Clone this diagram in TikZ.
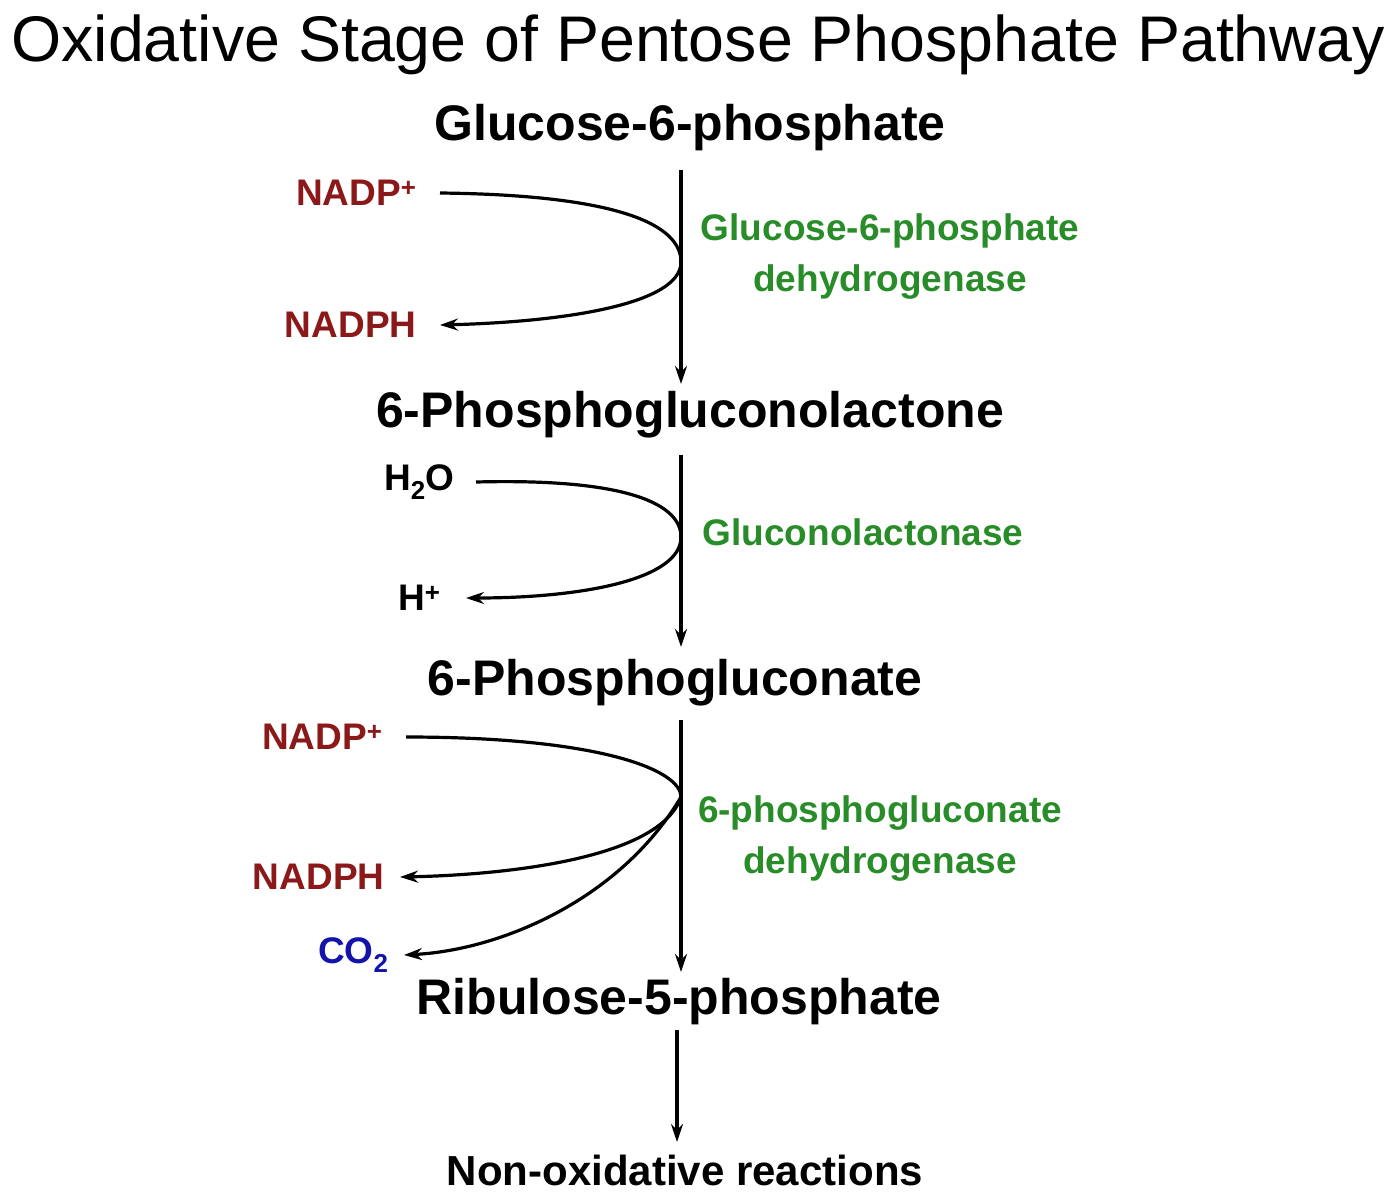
\documentclass[tikz,border=0pt]{standalone}
\usepackage{fontspec}
\setmainfont{Liberation Sans}
\usetikzlibrary{arrows.meta}
\definecolor{dred}{RGB}{140,25,25}
\definecolor{egreen}{RGB}{40,140,40}
\definecolor{cblue}{RGB}{20,20,170}
\begin{document}
\begin{tikzpicture}[x=1pt,y=-1pt,
  met/.style={font=\fontsize{50}{54}\selectfont\bfseries},
  enz/.style={text=egreen,font=\fontsize{37}{51}\selectfont\bfseries,align=center},
  cof/.style={font=\fontsize{37}{40}\selectfont\bfseries},
  arr/.style={-{Stealth[length=18pt,width=12pt]},line width=3.2pt},
  crv/.style={line width=3.2pt}]
\useasboundingbox (0,0) rectangle (1395,1200);
\node (title) at (698,45) {\fontsize{64.5}{70}\selectfont Oxidative Stage of Pentose Phosphate Pathway};
\node[met] (g6p) at (690,128) {Glucose-6-phosphate};
\node[met] (pgl) at (690,415) {6-Phosphogluconolactone};
\node[met] (pg) at (675,683) {6-Phosphogluconate};
\node[met] (r5p) at (679,1002) {Ribulose-5-phosphate};
\node[font=\fontsize{42}{46}\selectfont\bfseries] (non) at (685,1170) {Non-oxidative reactions};
\coordinate (a1) at (681,170); \coordinate (b1) at (681,384);
\coordinate (a2) at (681,455); \coordinate (b2) at (681,647);
\coordinate (a3) at (681,720); \coordinate (b3) at (681,972);
\coordinate (a4) at (677,1030); \coordinate (b4) at (677,1142);
\draw[arr] (a1) -- (b1);
\draw[arr] (a2) -- (b2);
\draw[arr] (a3) -- (b3);
\draw[arr] (a4) -- (b4);
% step 1
\node[cof,text=dred,anchor=east] (nadp1) at (420,193) {NADP\textsuperscript{+}};
\node[cof,text=dred,anchor=east] (nadph1) at (420,325) {NADPH};
\coordinate (m1) at (681,262);
\draw[crv] ([xshift=20pt]nadp1.east) .. controls (620,195) and (681,225) .. (m1);
\draw[arr] (m1) .. controls (681,305) and (560,322) .. ([xshift=20pt]nadph1.east);
\node[enz] (e1) at (890,257) {Glucose-6-phosphate\\dehydrogenase};
% step 2
\node[cof,anchor=east] (h2o) at (458,482) {H\textsubscript{2}O};
\node[cof,anchor=east] (hp) at (444,598) {H\textsuperscript{+}};
\coordinate (m2) at (681,537);
\draw[crv] ([xshift=18pt]h2o.east) .. controls (630,478) and (681,505) .. (m2);
\draw[arr] (m2) .. controls (681,580) and (580,598) .. ([xshift=22pt]hp.east);
\node[enz] (e2) at (863,532) {Gluconolactonase};
% step 3
\node[cof,text=dred,anchor=east] (nadp3) at (386,737) {NADP\textsuperscript{+}};
\node[cof,text=dred,anchor=east] (nadph3) at (388,877) {NADPH};
\node[cof,text=cblue,anchor=east] (co2) at (392,955) {CO\textsubscript{2}};
\coordinate (m3) at (681,797);
\draw[crv] ([xshift=20pt]nadp3.east) .. controls (600,737) and (681,770) .. (m3);
\draw[arr] (m3) .. controls (660,860) and (500,875) .. ([xshift=12pt]nadph3.east);
\draw[arr] (m3) .. controls (620,900) and (500,950) .. ([xshift=12pt]co2.east);
\node[enz] (e3) at (880,839) {6-phosphogluconate\\dehydrogenase};
\end{tikzpicture}
\end{document}
